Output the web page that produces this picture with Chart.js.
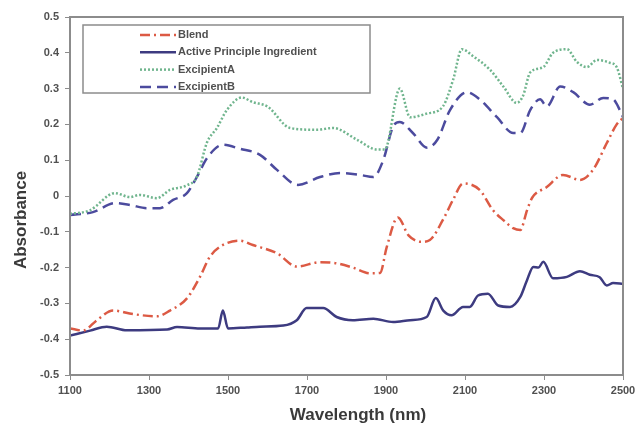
<!DOCTYPE html>
<html>
<head>
<meta charset="utf-8">
<script src="https://cdn.jsdelivr.net/npm/chart.js@4.4.1/dist/chart.umd.min.js"></script>
<style>
  html, body { margin: 0; padding: 0; background: #fff; }
  #wrap { width: 640px; height: 432px; position: relative; }
</style>
</head>
<body>
<div id="wrap"><canvas id="spectra"></canvas></div>
<script>
// wavelength (nm) / absorbance pairs
const blendWl  = [1100, 1133, 1168, 1209, 1260, 1320, 1353, 1396, 1429, 1454, 1487, 1530, 1563, 1624, 1674, 1733, 1775, 1816, 1859, 1885, 1902, 1930, 1957, 1990, 2011, 2044, 2070, 2095, 2137, 2171, 2200, 2222, 2240, 2257, 2270, 2307, 2348, 2391, 2424, 2459, 2484, 2500];
const blendAbs = [-0.37, -0.376, -0.347, -0.32, -0.33, -0.336, -0.32, -0.286, -0.226, -0.17, -0.137, -0.125, -0.137, -0.16, -0.197, -0.185, -0.188, -0.2, -0.216, -0.215, -0.142, -0.06, -0.11, -0.128, -0.123, -0.067, -0.01, 0.035, 0.017, -0.04, -0.07, -0.09, -0.095, -0.04, -0.005, 0.025, 0.059, 0.045, 0.073, 0.148, 0.2, 0.218];

const apiWl  = [1100, 1151, 1193, 1244, 1346, 1371, 1429, 1475, 1487, 1500, 1548, 1581, 1640, 1674, 1699, 1741, 1775, 1816, 1868, 1918, 1961, 2003, 2026, 2045, 2066, 2095, 2112, 2133, 2158, 2184, 2214, 2240, 2257, 2273, 2286, 2298, 2323, 2358, 2391, 2416, 2441, 2459, 2475, 2500];
const apiAbs = [-0.39, -0.376, -0.365, -0.375, -0.373, -0.366, -0.37, -0.37, -0.32, -0.37, -0.367, -0.365, -0.362, -0.347, -0.313, -0.313, -0.338, -0.347, -0.343, -0.352, -0.347, -0.338, -0.285, -0.32, -0.333, -0.31, -0.31, -0.278, -0.273, -0.306, -0.31, -0.282, -0.235, -0.198, -0.2, -0.184, -0.23, -0.226, -0.21, -0.22, -0.227, -0.25, -0.243, -0.245];

const excAWl  = [1100, 1150, 1214, 1252, 1277, 1320, 1353, 1396, 1421, 1447, 1472, 1497, 1535, 1563, 1600, 1657, 1725, 1766, 1827, 1877, 1897, 1935, 1961, 2003, 2044, 2070, 2092, 2121, 2163, 2197, 2231, 2247, 2265, 2298, 2323, 2358, 2383, 2408, 2434, 2467, 2484, 2500];
const excAAbs = [-0.05, -0.04, 0.008, -0.003, 0.003, -0.006, 0.017, 0.03, 0.053, 0.15, 0.19, 0.24, 0.275, 0.262, 0.25, 0.19, 0.185, 0.19, 0.157, 0.13, 0.13, 0.3, 0.22, 0.23, 0.25, 0.325, 0.41, 0.39, 0.353, 0.306, 0.26, 0.28, 0.345, 0.36, 0.4, 0.41, 0.375, 0.36, 0.38, 0.372, 0.36, 0.3];

const excBWl  = [1100, 1158, 1214, 1252, 1294, 1328, 1361, 1396, 1421, 1447, 1487, 1530, 1581, 1624, 1677, 1733, 1784, 1834, 1868, 1893, 1918, 1935, 1968, 2004, 2030, 2062, 2105, 2137, 2181, 2222, 2240, 2265, 2290, 2307, 2341, 2374, 2416, 2450, 2475, 2492, 2500];
const excBAbs = [-0.053, -0.045, -0.02, -0.025, -0.034, -0.034, -0.011, 0.008, 0.053, 0.106, 0.143, 0.132, 0.115, 0.073, 0.031, 0.053, 0.064, 0.059, 0.053, 0.1, 0.194, 0.207, 0.176, 0.135, 0.157, 0.24, 0.29, 0.27, 0.22, 0.176, 0.176, 0.24, 0.27, 0.25, 0.306, 0.29, 0.255, 0.274, 0.27, 0.24, 0.22];

const seriesNames = ['Blend', 'Active Principle Ingredient', 'ExcipientA', 'ExcipientB'];
const xTitle = 'Wavelength (nm)';
const yTitle = 'Absorbance';

const frameGrey = '#8c8c8c';
const textGrey = '#505050';

function pairs(xs, ys) {
    return xs.map((x, i) => ({ x: x, y: ys[i] }));
}

let datasets = [
    { label: seriesNames[0], data: pairs(blendWl, blendAbs), borderColor: '#dc5a44', borderWidth: 2.5, borderDash: [10, 4, 2, 4] },
    { label: seriesNames[1], data: pairs(apiWl, apiAbs), borderColor: '#3d3b80', borderWidth: 2.5, borderDash: [] },
    { label: seriesNames[2], data: pairs(excAWl, excAAbs), borderColor: '#70b58e', borderWidth: 2.5, borderDash: [2, 2] },
    { label: seriesNames[3], data: pairs(excBWl, excBAbs), borderColor: '#4c4b9e', borderWidth: 2.5, borderDash: [11, 6] }
];
datasets.forEach(d => {
    d.pointRadius = 0;
    d.fill = false;
    d.cubicInterpolationMode = 'monotone';
});

// frame, legend box and axis titles
const decorations = {
    id: 'decorations',
    afterDatasetsDraw(chart) {
        const ctx = chart.ctx;
        const a = chart.chartArea;
        ctx.save();
        ctx.strokeStyle = frameGrey;
        ctx.lineWidth = 2;
        ctx.strokeRect(a.left, a.top, a.right - a.left, a.bottom - a.top);

        // legend
        const box = { x: 83, y: 25, w: 287, h: 68 };
        ctx.fillStyle = '#fff';
        ctx.fillRect(box.x, box.y, box.w, box.h);
        ctx.lineWidth = 1.5;
        ctx.strokeRect(box.x, box.y, box.w, box.h);
        ctx.font = 'bold 11px "Liberation Sans", Arial, sans-serif';
        ctx.textBaseline = 'middle';
        chart.data.datasets.forEach((d, i) => {
            const y = 35 + i * 17.3;
            ctx.strokeStyle = d.borderColor;
            ctx.lineWidth = d.borderWidth;
            ctx.setLineDash(d.borderDash);
            ctx.beginPath();
            ctx.moveTo(140, y);
            ctx.lineTo(176, y);
            ctx.stroke();
            ctx.setLineDash([]);
            ctx.fillStyle = textGrey;
            ctx.textAlign = 'left';
            ctx.fillText(d.label, 178, y);
        });

        // axis titles
        ctx.fillStyle = '#3a3a3a';
        ctx.font = 'bold 17px "Liberation Sans", Arial, sans-serif';
        ctx.textAlign = 'center';
        ctx.fillText(xTitle, 358, 415);
        ctx.translate(21, 220);
        ctx.rotate(-Math.PI / 2);
        ctx.fillText(yTitle, 0, 0);
        ctx.restore();
    }
};

const tickFont = { family: '"Liberation Sans", Arial, sans-serif', size: 11, weight: 'bold' };

new Chart(document.getElementById('spectra'), {
    type: 'line',
    data: { datasets: datasets },
    options: {
        responsive: true,
        maintainAspectRatio: false,
        animation: false,
        layout: { padding: { top: 17, right: 17, left: 0, bottom: 0 } },
        plugins: { legend: { display: false }, tooltip: { enabled: false } },
        scales: {
            x: {
                type: 'linear',
                min: 1100,
                max: 2500,
                ticks: {
                    stepSize: 200,
                    color: textGrey,
                    font: tickFont,
                    padding: 4,
                    maxRotation: 0,
                    callback: v => String(v)
                },
                grid: { drawOnChartArea: false, tickLength: 5, color: frameGrey },
                border: { color: frameGrey, width: 2 },
                afterFit(scale) { scale.height = 57; }
            },
            y: {
                min: -0.5,
                max: 0.5,
                ticks: {
                    stepSize: 0.1,
                    color: textGrey,
                    font: tickFont,
                    padding: 6,
                    callback: v => String(Math.round(v * 10) / 10)
                },
                grid: { drawOnChartArea: false, tickLength: 5, color: frameGrey },
                border: { color: frameGrey, width: 2 },
                afterFit(scale) { scale.width = 70; }
            }
        }
    },
    plugins: [decorations]
});
</script>
</body>
</html>
